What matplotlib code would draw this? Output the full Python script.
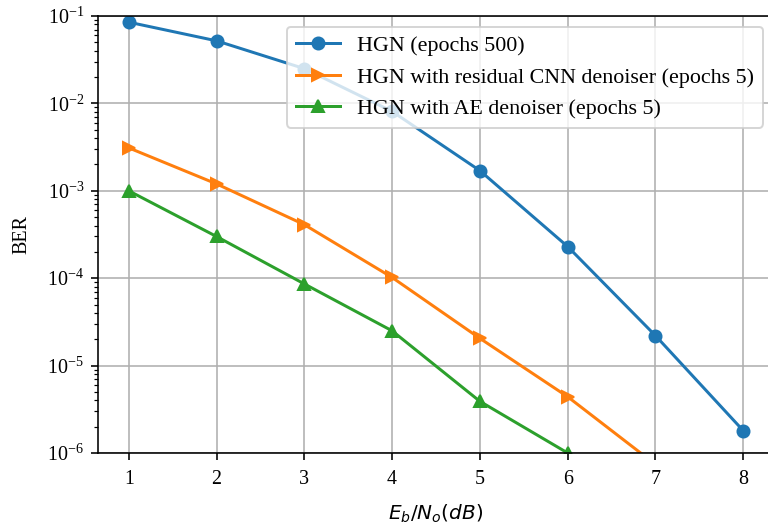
import matplotlib
matplotlib.use("Agg")
import matplotlib.pyplot as plt

plt.rcParams['font.family'] = ['Liberation Serif', 'DejaVu Serif']

snr_db = [1, 2, 3, 4, 5, 6, 7, 8]
ber_hgn = [8.5e-2, 5.2e-2, 2.5e-2, 8.1e-3, 1.7e-3, 2.3e-4, 2.2e-5, 1.8e-6]

snr_cnn = [1, 2, 3, 4, 5, 6, 7]
ber_cnn = [3.1e-3, 1.2e-3, 4.1e-4, 1.02e-4, 2.05e-5, 4.4e-6, 7.4e-7]

snr_ae = [1, 2, 3, 4, 5, 6]
ber_ae = [1.0e-3, 3.0e-4, 8.6e-5, 2.5e-5, 3.9e-6, 1.0e-6]

fig = plt.figure(figsize=(768 / 144, 524 / 144), dpi=144)
ax = fig.add_axes([98 / 768, 71 / 524, 676 / 768, 437 / 524])

ax.semilogy(snr_db, ber_hgn, marker='o', label='HGN (epochs 500)')
ax.semilogy(snr_cnn, ber_cnn, marker='>', label='HGN with residual CNN denoiser (epochs 5)')
ax.semilogy(snr_ae, ber_ae, marker='^', label='HGN with AE denoiser (epochs 5)')

ax.set_ylim(1e-6, 1e-1)
ax.set_xlim(0.65, 8.35)
ax.tick_params(axis='x', pad=5)
ax.set_xlabel('$E_b/N_o(dB)$', labelpad=7)
ax.set_ylabel('BER', labelpad=8)
ax.grid(True)
ax.legend(loc='upper right', fontsize=11)

fig.savefig('out.png', dpi=144)
